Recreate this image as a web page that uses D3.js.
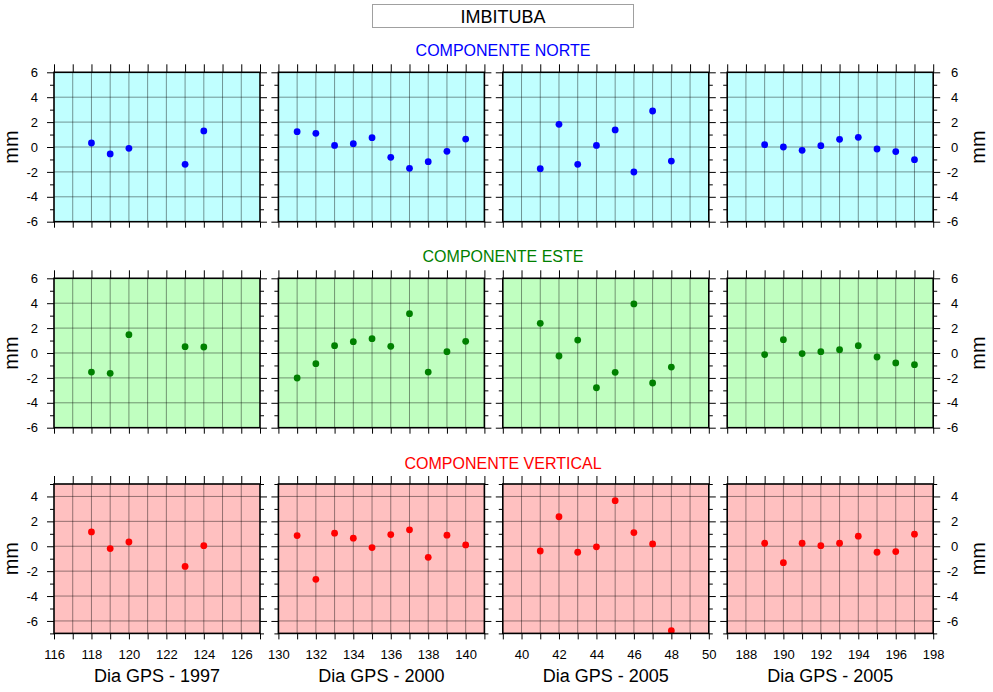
<!DOCTYPE html>
<html>
<head>
<meta charset="utf-8">
<script src="https://cdn.jsdelivr.net/npm/d3@7"></script>
<style>
  body { margin: 0; background: #fff; }
  text { font-family: "Liberation Sans", Arial, Helvetica, sans-serif; }
</style>
</head>
<body>
<script>
// ---------- DATA ----------
const stationName = "IMBITUBA";
const componentNames = ["COMPONENTE NORTE", "COMPONENTE ESTE", "COMPONENTE VERTICAL"];
const xTitles = ["Dia GPS - 1997", "Dia GPS - 2000", "Dia GPS - 2005", "Dia GPS - 2005"];

const days1997 = [118, 119, 120, 123, 124];
const days2000 = [131, 132, 133, 134, 135, 136, 137, 138, 139, 140];
const days2005a = [41, 42, 43, 44, 45, 46, 47, 48];
const days2005b = [189, 190, 191, 192, 193, 194, 195, 196, 197];

const xDomain1997 = [116, 127];
const xDomain2000 = [130, 141];
const xDomain2005a = [39, 50];
const xDomain2005b = [187, 198];

const xTicks1997 = [116, 118, 120, 122, 124, 126];
const xTicks2000 = [130, 132, 134, 136, 138, 140];
const xTicks2005a = [40, 42, 44, 46, 48, 50];
const xTicks2005b = [188, 190, 192, 194, 196, 198];

const yDomainHoriz = [-6, 6];
const yDomainVert = [-7, 5];
const yTicksHoriz = [-6, -4, -2, 0, 2, 4, 6];
const yTicksVert = [-6, -4, -2, 0, 2, 4];

// Norte (mm)
const norte1997 = [0.32, -0.56, -0.11, -1.39, 1.29];
const norte2000 = [1.23, 1.10, 0.13, 0.27, 0.75, -0.83, -1.71, -1.18, -0.35, 0.64];
const norte2005a = [-1.74, 1.82, -1.39, 0.13, 1.37, -2.01, 2.89, -1.13];
const norte2005b = [0.19, 0.00, -0.27, 0.11, 0.62, 0.78, -0.16, -0.37, -1.02];

// Este (mm)
const este1997 = [-1.53, -1.63, 1.47, 0.51, 0.48];
const este2000 = [-2.01, -0.86, 0.59, 0.91, 1.15, 0.54, 3.16, -1.53, 0.11, 0.94];
const este2005a = [2.38, -0.24, 1.04, -2.79, -1.55, 3.94, -2.41, -1.13];
const este2005b = [-0.13, 1.07, -0.05, 0.11, 0.27, 0.59, -0.32, -0.80, -0.94];

// Vertical (mm)
const vert1997 = [1.15, -0.19, 0.34, -1.62, 0.05];
const vert2000 = [0.86, -2.66, 1.05, 0.65, -0.11, 0.94, 1.32, -0.89, 0.89, 0.11];
const vert2005a = [-0.38, 2.37, -0.48, -0.05, 3.66, 1.10, 0.19, -6.78];
const vert2005b = [0.24, -1.32, 0.24, 0.05, 0.24, 0.81, -0.48, -0.43, 0.97];

// ---------- BUILD ----------
const campaigns = [
  { days: days1997, domain: xDomain1997, ticks: xTicks1997 },
  { days: days2000, domain: xDomain2000, ticks: xTicks2000 },
  { days: days2005a, domain: xDomain2005a, ticks: xTicks2005a },
  { days: days2005b, domain: xDomain2005b, ticks: xTicks2005b }
];
const rows = [
  { values: [norte1997, norte2000, norte2005a, norte2005b], yDomain: yDomainHoriz, yTicks: yTicksHoriz,
    bg: "#c0ffff", dot: "#0000ff", title: "#0000ff" },
  { values: [este1997, este2000, este2005a, este2005b], yDomain: yDomainHoriz, yTicks: yTicksHoriz,
    bg: "#c0ffc0", dot: "#008000", title: "#008000" },
  { values: [vert1997, vert2000, vert2005a, vert2005b], yDomain: yDomainVert, yTicks: yTicksVert,
    bg: "#ffc0c0", dot: "#ff0000", title: "#ff0000" }
];

const W = 993, H = 692;
const svg = d3.select("body").append("svg").attr("width", W).attr("height", H);

const lefts = [54, 278.4, 502.8, 727.2];
const tops = [72.3, 278.3, 484];
const pw = 206, ph = 149.4;

// Title box
svg.append("rect").attr("x", 372.5).attr("y", 4.5).attr("width", 261).attr("height", 23)
  .attr("fill", "#fff").attr("stroke", "#a0a0a0").attr("stroke-width", 1);
svg.append("text").attr("x", 503).attr("y", 22.5).attr("text-anchor", "middle")
  .attr("font-size", 18).attr("fill", "#000").text(stationName);

const subY = [56, 262, 469];

rows.forEach((row, r) => {
  svg.append("text").attr("x", 503).attr("y", subY[r]).attr("text-anchor", "middle")
    .attr("font-size", 16).attr("fill", row.title).text(componentNames[r]);

  campaigns.forEach((camp, c) => {
    const g = svg.append("g").attr("transform", `translate(${lefts[c]},${tops[r]})`);
    const x = d3.scaleLinear().domain(camp.domain).range([0, pw]);
    const y = d3.scaleLinear().domain(row.yDomain).range([ph, 0]);
    const xInts = d3.range(camp.domain[0], camp.domain[1] + 1);
    const yInts = d3.range(row.yDomain[0], row.yDomain[1] + 1);
    const yMajor = yInts.filter(v => v % 2 === 0);
    const yMinor = yInts.filter(v => v % 2 !== 0);

    g.append("rect").attr("width", pw).attr("height", ph).attr("fill", row.bg);

    // grid
    g.selectAll(".vg").data(xInts.slice(1, -1)).enter().append("line")
      .attr("x1", d => x(d)).attr("x2", d => x(d)).attr("y1", 0).attr("y2", ph)
      .attr("stroke", "#000").attr("stroke-opacity", 0.42).attr("stroke-width", 1);
    g.selectAll(".hg").data(yMajor.filter(v => v > row.yDomain[0] && v < row.yDomain[1])).enter().append("line")
      .attr("x1", 0).attr("x2", pw).attr("y1", d => y(d)).attr("y2", d => y(d))
      .attr("stroke", "#000").attr("stroke-opacity", 0.42).attr("stroke-width", 1);

    // dots
    g.selectAll(".dot").data(camp.days.map((d, i) => [d, row.values[c][i]])).enter().append("circle")
      .attr("cx", d => x(d[0])).attr("cy", d => y(d[1])).attr("r", 3.4).attr("fill", row.dot);

    // axes ticks
    const styleAxis = sel => {
      sel.select(".domain").remove();
      sel.selectAll("line").attr("stroke", "#000").attr("stroke-width", 1);
      sel.selectAll("text").attr("font-size", 13).attr("fill", "#000")
        .attr("font-family", '"Liberation Sans", Arial, Helvetica, sans-serif');
    };
    g.append("g").call(d3.axisTop(x).tickValues(xInts).tickSize(8).tickSizeOuter(0).tickFormat("")).call(styleAxis);
    const isBottom = r === rows.length - 1;
    const bAxis = d3.axisBottom(x).tickValues(xInts).tickSize(6).tickSizeOuter(0).tickPadding(10)
      .tickFormat(d => (isBottom && camp.ticks.includes(d)) ? d : "");
    g.append("g").attr("transform", `translate(0,${ph})`).call(bAxis).call(styleAxis);

    // left
    g.append("g").call(d3.axisLeft(y).tickValues(yMajor).tickSize(7).tickSizeOuter(0).tickPadding(9)
      .tickFormat(d => (c === 0 && row.yTicks.includes(d)) ? d : "")).call(styleAxis);
    g.append("g").call(d3.axisLeft(y).tickValues(yMinor).tickSize(4).tickSizeOuter(0).tickFormat("")).call(styleAxis);
    // right
    const ra = g.append("g").attr("transform", `translate(${pw},0)`)
      .call(d3.axisRight(y).tickValues(yMajor).tickSize(7).tickSizeOuter(0).tickPadding(9)
        .tickFormat(d => (c === 3 && row.yTicks.includes(d)) ? d : "")).call(styleAxis);
    ra.selectAll("text").attr("text-anchor", "end").attr("x", 25);
    g.append("g").attr("transform", `translate(${pw},0)`)
      .call(d3.axisRight(y).tickValues(yMinor).tickSize(4).tickSizeOuter(0).tickFormat("")).call(styleAxis);

    // frame
    g.append("rect").attr("width", pw).attr("height", ph).attr("fill", "none")
      .attr("stroke", "#000").attr("stroke-width", 1.6);

    if (isBottom) {
      svg.append("text").attr("x", lefts[c] + pw / 2).attr("y", 682).attr("text-anchor", "middle")
        .attr("font-size", 18).attr("fill", "#000").text(xTitles[c]);
    }
  });

  const cy = tops[r] + ph / 2;
  svg.append("text").attr("transform", `translate(18,${cy}) rotate(-90)`).attr("text-anchor", "middle")
    .attr("font-size", 20).attr("fill", "#000").text("mm");
  svg.append("text").attr("transform", `translate(985,${cy}) rotate(-90)`).attr("text-anchor", "middle")
    .attr("font-size", 20).attr("fill", "#000").text("mm");
});
</script>
</body>
</html>
